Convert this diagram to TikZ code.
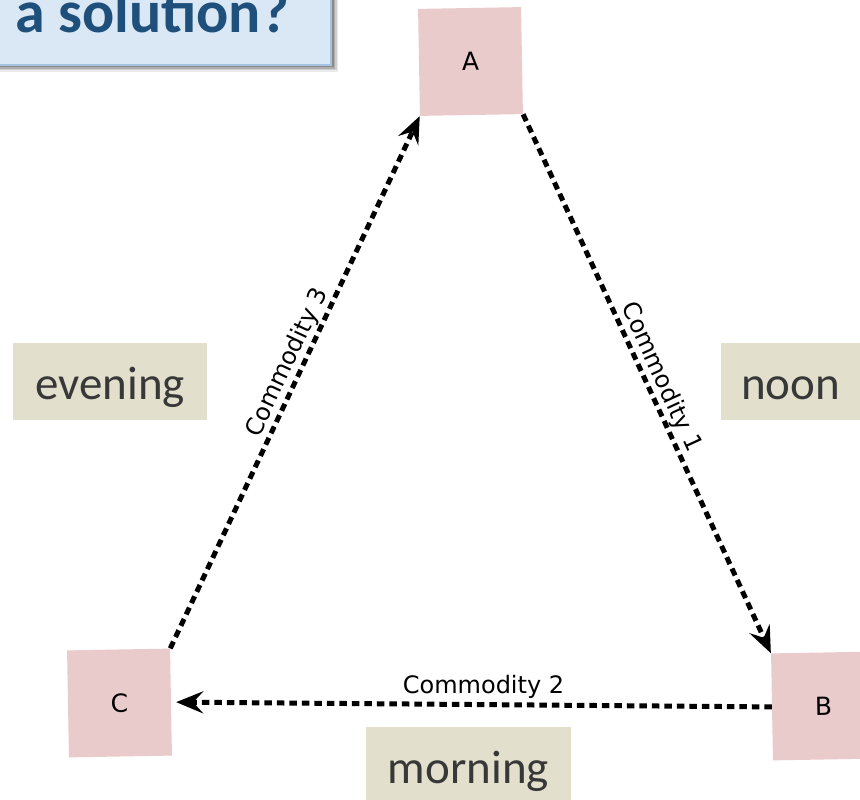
\documentclass[tikz,border=0pt]{standalone}
\usepackage{fontspec}
\setmainfont{DejaVu Sans}
\newfontfamily\calib{Carlito}
\usetikzlibrary{arrows.meta}
\definecolor{nodepink}{RGB}{232,203,202}
\definecolor{timefill}{RGB}{226,223,205}
\definecolor{timetext}{RGB}{56,56,56}
\definecolor{titlefill}{RGB}{218,232,245}
\definecolor{titleedge}{RGB}{165,196,226}
\definecolor{titletext}{RGB}{31,80,124}
\newcommand\placefont{\fontsize{25}{30}\selectfont}
\begin{document}
\begin{tikzpicture}[x=1pt,y=1pt,
  place/.style={fill=nodepink, minimum width=103pt, minimum height=107pt,
    inner sep=0pt, rotate=1, font=\placefont},
  period/.style={fill=timefill, inner sep=0pt, minimum height=77pt,
    text height=35pt, text depth=0pt,
    text=timetext, font=\calib\fontsize{47}{56}\selectfont},
  flow/.style={line width=5pt, dash pattern=on 7.5pt off 5pt,
    -{Stealth[length=27pt,width=22pt,inset=10pt]}},
  tag/.style={font=\fontsize{24}{28}\selectfont, inner sep=1pt}]
\useasboundingbox (0,0) rectangle (860,-800);

% heading box with soft shadow
\foreach \o/\a in {7/0.08,5.5/0.12,4/0.16,2.5/0.2}
  \fill[black, opacity=\a] (-10+\o,20-\o) rectangle (331+\o,-65-\o);
\filldraw[fill=titlefill, draw=titleedge, line width=1.5pt]
  (-10,20) rectangle (331,-65);
\node[anchor=base west, inner sep=0pt, text=titletext,
  font=\calib\bfseries\fontsize{60}{72}\selectfont] (title) at (15,-33) {a solution?};

% time-of-day panels
\node[period, minimum width=194pt] (evening) at (110,-381.5) {evening};
\node[period, minimum width=139pt] (noon) at (790.5,-381.5) {noon};
\node[period, minimum width=205pt] (morning) at (468.5,-765.5) {morning};

% places
\node[place] (A) at (470.5,-61.5) {\placefont A};
\node[place] (B) at (823.5,-706) {\placefont B};
\node[place] (C) at (119.5,-703) {\placefont C};

% commodity flows
\draw[flow] (A.south east) -- node[tag, sloped, above, pos=0.5] {Commodity 1} (B.north west);
\draw[flow, shorten >=5pt] (B.west) -- node[tag, above=3pt, pos=0.48] {Commodity 2} (C.east);
\draw[flow] (C.north east) -- node[tag, sloped, above, pos=0.525] {Commodity 3} (A.south west);
\end{tikzpicture}
\end{document}
